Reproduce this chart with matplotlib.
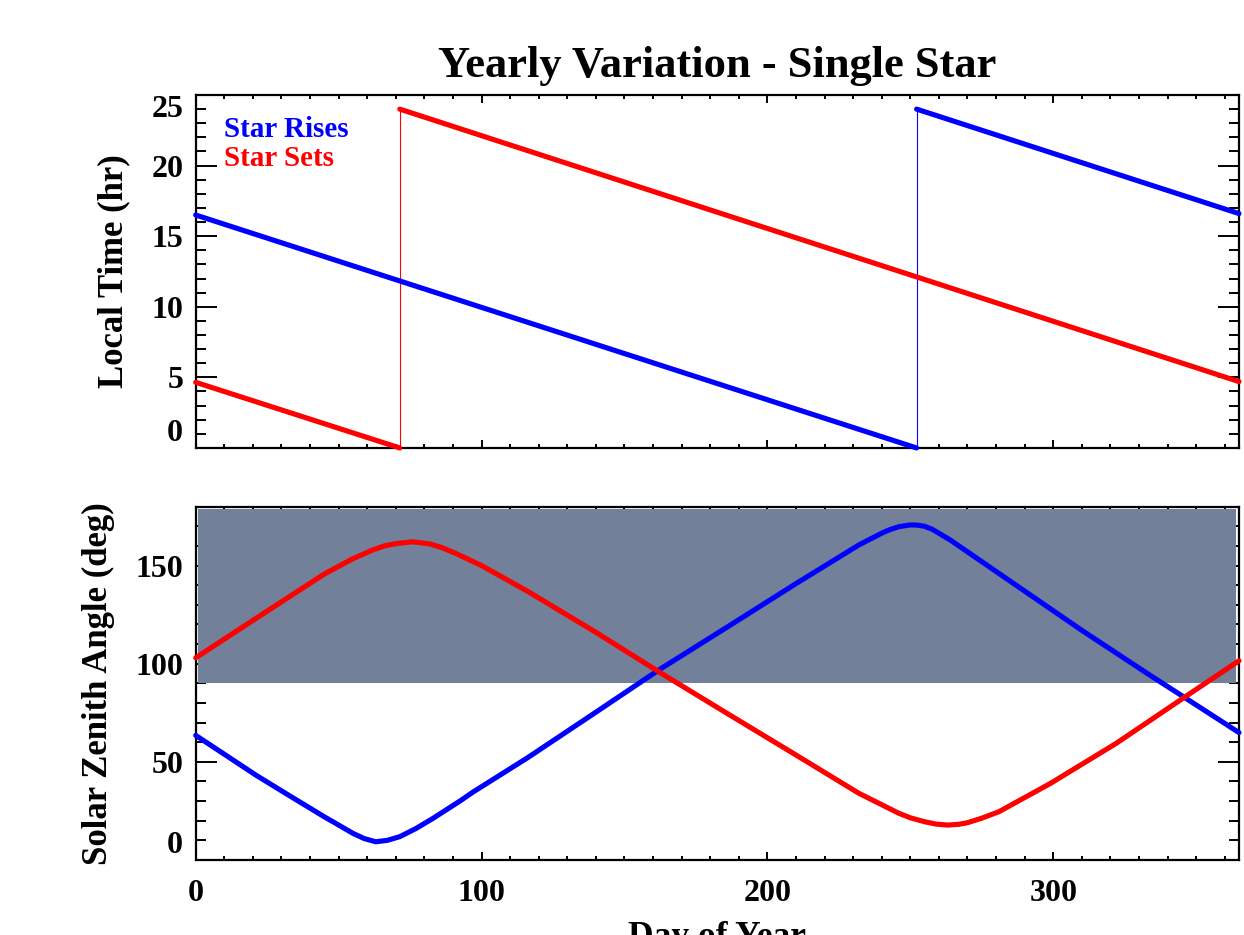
import matplotlib
matplotlib.use("Agg")
import matplotlib.pyplot as plt
from matplotlib.ticker import MultipleLocator

# ---------------- data ----------------
rise_time_day = [0, 252.2, 252.2, 365]
rise_time_hr = [16.5, 0.0, 24.0, 16.6]
set_time_day = [0, 71.4, 71.4, 365]
set_time_hr = [4.65, 0.0, 24.0, 4.7]

rise_sza_day = [0, 10, 21, 33, 36.4, 45, 48, 55, 59, 63, 67, 71.4, 77, 83,
                92.4, 97, 116, 140, 162, 185, 210, 232, 240, 243, 246, 250,
                252.5, 255, 257.5, 260, 264, 275, 287, 310, 334, 350, 365]
rise_sza = [63.5, 53.9, 43.3, 32.6, 29.6, 22.0, 19.5, 13.6, 10.9, 9.3, 10.0,
            11.9, 16.0, 21.2, 30.0, 34.6, 52.0, 75.3, 96.8, 117.8, 140.8,
            160.5, 166.5, 168.4, 169.8, 170.7, 170.6, 170.0, 168.6, 166.5,
            163.0, 152.0, 140.0, 117.0, 94.0, 79.0, 64.9]

set_sza_day = [0, 21, 45, 55, 62, 66, 70, 76, 82, 86, 91, 100, 116, 140, 162,
               185, 210, 232, 246, 250, 255, 259, 263, 267, 270, 275, 281,
               299, 322, 346, 365]
set_sza = [103.0, 123.0, 145.7, 153.5, 158.0, 160.0, 161.2, 162.1, 161.0,
           159.2, 156.2, 150.0, 137.0, 116.0, 95.9, 75.5, 53.5, 34.0, 23.8,
           21.5, 19.5, 18.3, 17.8, 18.2, 19.0, 21.3, 24.6, 39.0, 59.4, 83.0,
           101.5]

night_range = [90, 180]

title = "Yearly Variation - Single Star"
legend_labels = ["Star Rises", "Star Sets"]
top_ylabel = "Local Time (hr)"
bot_ylabel = "Solar Zenith Angle (deg)"
xlabel = "Day of Year"

# ---------------- style ----------------
FONT = "Liberation Serif"
plt.rcParams["font.family"] = [FONT, "DejaVu Serif"]
plt.rcParams["font.weight"] = "bold"
BLUE = "#0000ff"
RED = "#ff0000"
SHADE = "#728099"
TICK_FS = 23
LW = 3.7

fig = plt.figure(figsize=(12.44, 9.35), dpi=100)
ax1 = fig.add_axes([0.1573, 0.5209, 0.8387, 0.3775])
ax2 = fig.add_axes([0.1573, 0.0802, 0.8387, 0.3779])


def style_axis(ax):
    for s in ax.spines.values():
        s.set_linewidth(1.6)
    ax.tick_params(axis="both", which="both", direction="in",
                   top=True, right=True, width=1.4, colors="black")
    ax.tick_params(axis="y", which="major", length=15)
    ax.tick_params(axis="y", which="minor", length=7)
    ax.tick_params(axis="x", which="major", length=5.5)
    ax.tick_params(axis="x", which="minor", length=3)
    ax.tick_params(axis="y", labelsize=TICK_FS, pad=9)
    ax.tick_params(axis="x", labelsize=TICK_FS, pad=14)
    ax.set_xlim(0, 365)
    ax.xaxis.set_major_locator(MultipleLocator(100))
    ax.xaxis.set_minor_locator(MultipleLocator(10))


# ---------------- top panel ----------------
style_axis(ax1)
ax1.set_ylim(0, 25)
ax1.yaxis.set_major_locator(MultipleLocator(5))
ax1.yaxis.set_minor_locator(MultipleLocator(1))
ax1.tick_params(axis="x", labelbottom=False)

for days, hrs, col in [(rise_time_day, rise_time_hr, BLUE),
                       (set_time_day, set_time_hr, RED)]:
    ax1.plot(days[0:2], hrs[0:2], color=col, lw=LW, solid_capstyle="round",
             zorder=4, clip_on=False)
    ax1.plot(days[1:3], hrs[1:3], color=col, lw=0.8, zorder=3)
    ax1.plot(days[2:4], hrs[2:4], color=col, lw=LW, solid_capstyle="round",
             zorder=4, clip_on=False)

ax1.text(0.0268, 0.881, legend_labels[0], transform=ax1.transAxes,
         color=BLUE, fontsize=21, fontweight="bold", va="baseline", ha="left")
ax1.text(0.0268, 0.799, legend_labels[1], transform=ax1.transAxes,
         color=RED, fontsize=21, fontweight="bold", va="baseline", ha="left")

ax1.set_ylabel(top_ylabel, fontsize=25, fontweight="bold")
ax1.yaxis.set_label_coords(-0.0786, 0.5)
ax1.yaxis.label.set_va("center")

# ---------------- bottom panel ----------------
style_axis(ax2)
ax2.set_ylim(0, 180)
ax2.yaxis.set_major_locator(MultipleLocator(50))
ax2.yaxis.set_minor_locator(MultipleLocator(10))

ax2.fill_between([0.9, 364.1], night_range[0], night_range[1] - 1.2,
                 color=SHADE, lw=0, zorder=3)
ax2.plot(rise_sza_day, rise_sza, color=BLUE, lw=LW, zorder=4,
         solid_joinstyle="round", solid_capstyle="round", clip_on=False)
ax2.plot(set_sza_day, set_sza, color=RED, lw=LW, zorder=5,
         solid_joinstyle="round", solid_capstyle="round", clip_on=False)

ax2.set_ylabel(bot_ylabel, fontsize=25, fontweight="bold")
ax2.yaxis.set_label_coords(-0.0930, 0.5)
ax2.yaxis.label.set_va("center")

ax2.set_xlabel(xlabel, fontsize=25.5, fontweight="bold")
ax2.xaxis.set_label_coords(0.5, -0.172)
ax2.xaxis.label.set_va("top")

fig.canvas.draw()
# IDL-style: end labels kept inside the axis range
for ax in (ax1, ax2):
    labs = ax.get_yticklabels()
    ticks = ax.get_yticks()
    lo, hi = ax.get_ylim()
    for t, lab in zip(ticks, labs):
        if abs(t - lo) < 1e-9:
            lab.set_va("bottom")
        elif abs(t - hi) < 1e-9:
            lab.set_va("top")

fig.text(717 / 1244, 1 - 77 / 935, title, ha="center", va="baseline",
         fontsize=32, fontweight="bold")

fig.savefig("out.png", dpi=100)
